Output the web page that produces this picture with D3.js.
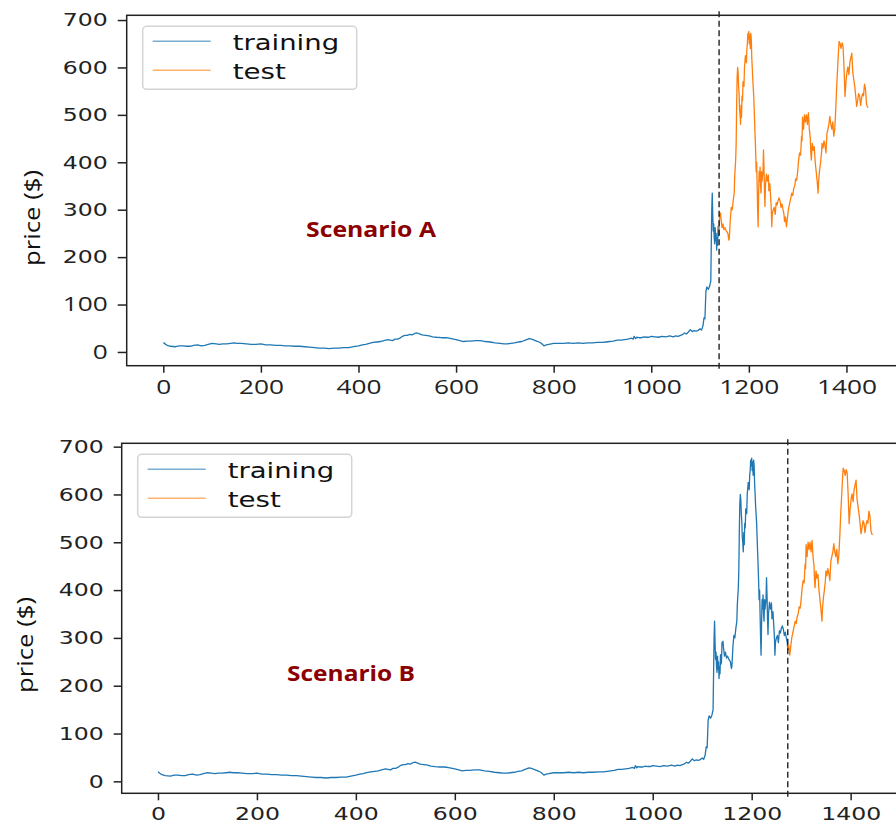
<!DOCTYPE html>
<html lang="en">
<head>
<meta charset="UTF-8">
<script src="https://cdnjs.cloudflare.com/ajax/libs/d3/7.8.5/d3.min.js"></script>
<title>price scenarios</title>
<style>
    body { margin: 0; background: #fff; }
    svg { display: block; }
</style>
</head>
<body>
<svg id="chart" width="896" height="824"></svg>
<script>
    // price series (day index -> price $)
    var days = [
        0, 5, 8, 15, 25, 33, 40, 48, 55, 62, 70, 78, 85, 92, 100, 108, 115, 122, 130, 138,
        145, 152, 160, 170, 180, 190, 200, 210, 220, 230, 240, 250, 260, 270, 280, 290, 300, 310, 320, 330,
        340, 350, 360, 370, 380, 390, 400, 408, 415, 422, 430, 438, 445, 452, 460, 465, 470, 475, 480, 485,
        490, 495, 500, 505, 510, 515, 520, 525, 530, 538, 545, 552, 560, 570, 580, 590, 600, 608, 615, 622,
        630, 640, 650, 660, 670, 680, 690, 698, 705, 712, 720, 728, 735, 742, 750, 755, 760, 765, 770, 775,
        780, 785, 790, 800, 810, 820, 830, 840, 850, 860, 870, 880, 890, 900, 908, 915, 922, 930, 938, 945,
        952, 960, 963, 965, 968, 970, 975, 980, 985, 990, 995, 1000, 1008, 1015, 1022, 1030, 1038, 1045, 1050, 1055,
        1060, 1065, 1068, 1072, 1076, 1080, 1084, 1088, 1092, 1095, 1098, 1100, 1103, 1106,
        1108, 1110, 1112, 1114, 1117, 1120, 1122, 1124, 1125, 1126, 1127, 1128, 1129, 1130, 1131, 1132, 1133, 1134, 1135, 1136,
        1137, 1138, 1139, 1140, 1142, 1143, 1145, 1147, 1149, 1151, 1154, 1157, 1159, 1160, 1162, 1164, 1166, 1168, 1170, 1171,
        1173, 1174, 1175, 1176, 1177, 1178, 1179, 1180, 1181, 1182, 1183, 1184, 1185, 1186, 1187, 1188, 1190, 1191, 1193, 1195,
        1196, 1197, 1198, 1199, 1200, 1201, 1202, 1203, 1204, 1205, 1206, 1207, 1208, 1210, 1212, 1214, 1215, 1216, 1217, 1218,
        1219, 1220, 1221, 1222, 1223, 1224, 1225, 1226, 1227, 1229, 1230, 1231, 1232, 1233, 1234, 1236, 1238, 1240, 1241, 1243,
        1245, 1246, 1247, 1248, 1250, 1252, 1254, 1256, 1258, 1260, 1262, 1264, 1266, 1268, 1270, 1272, 1273, 1275, 1277, 1279,
        1281, 1283, 1285, 1288, 1290, 1292, 1294, 1296, 1298, 1300, 1302, 1304, 1306, 1308, 1309, 1310, 1312, 1314, 1316, 1318,
        1320, 1322, 1324, 1326, 1327, 1328, 1330, 1332, 1334, 1336, 1338, 1340, 1342, 1343, 1345, 1347, 1349, 1350, 1352, 1354,
        1356, 1358, 1360, 1362, 1364, 1366, 1368, 1370, 1372, 1374, 1376, 1378, 1380, 1382, 1384, 1385, 1387, 1389, 1391, 1393,
        1395, 1397, 1399, 1401, 1403, 1405, 1407, 1409, 1411, 1412, 1413, 1415, 1417, 1419, 1421, 1423, 1425, 1427, 1429, 1431,
        1433, 1435, 1437, 1439, 1441, 1442, 1444
    ];
    var prices = [
        20, 16, 14, 12, 11, 13, 13, 12, 12, 14, 15, 13, 14, 16, 18, 17, 16, 17, 17, 18,
        19, 18, 18, 17, 16, 16, 17, 15, 15, 14, 14, 13, 13, 12, 12, 11, 10, 9, 8, 8,
        7, 8, 8, 9, 9, 11, 13, 15, 16, 18, 20, 21, 22, 24, 26, 25, 24, 27, 27, 29,
        33, 35, 35, 37, 36, 39, 40, 38, 36, 35, 34, 32, 31, 30, 30, 28, 26, 24, 22, 23,
        23, 24, 24, 22, 21, 19, 18, 17, 17, 18, 19, 21, 22, 25, 28, 27, 25, 23, 21, 18,
        13, 15, 16, 18, 18, 18, 19, 18, 19, 18, 19, 19, 20, 20, 21, 22, 23, 25, 25, 26,
        27, 29, 27, 33, 28, 31, 30, 30, 32, 31, 31, 33, 32, 31, 33, 32, 34, 32, 34, 33,
        35, 37, 40, 38, 42, 47, 43, 45, 44, 45, 47, 49, 46, 55,
        72, 70, 128, 137, 132, 140, 150, 300, 335, 290, 255, 270, 240, 228, 262, 235, 250, 215, 240, 225,
        265, 245, 250, 290, 293, 280, 262, 270, 258, 262, 255, 250, 236, 240, 280, 305, 300, 320, 335, 370,
        405, 440, 520, 580, 600, 590, 560, 545, 510, 500, 480, 520, 495, 540, 530, 570, 560, 600, 625, 610,
        640, 650, 672, 660, 676, 650, 668, 640, 672, 660, 620, 600, 575, 540, 480, 420, 380, 400, 350, 300,
        264, 330, 380, 360, 390, 350, 335, 380, 360, 380, 426, 390, 340, 307, 350, 375, 360, 373, 340, 355,
        320, 300, 264, 290, 300, 305, 290, 315, 310, 320, 325, 318, 305, 312, 300, 290, 275, 285, 264, 282,
        300, 310, 320, 335, 330, 345, 350, 365, 362, 380, 405, 420, 415, 455, 445, 495, 470, 500, 485, 500,
        480, 504, 470, 450, 420, 405, 440, 425, 433, 400, 380, 360, 335, 360, 384, 400, 420, 440, 430, 445,
        435, 420, 460, 470, 480, 497, 480, 470, 485, 455, 470, 510, 560, 600, 640, 655, 650, 640, 652, 645,
        600, 539, 570, 590, 601, 585, 610, 620, 630, 610, 590, 574, 560, 540, 518, 530, 545, 540, 520, 535,
        545, 540, 565, 555, 525, 520, 515
    ];

    var seriesNames = ['training', 'test'];
    var seriesColors = ['#1f77b4', '#ff7f0e'];
    var scenarioNames = ['Scenario A', 'Scenario B'];
    var splitDays = [1139, 1273];
    var xTicks = [0, 200, 400, 600, 800, 1000, 1200, 1400];
    var yTicks = [0, 100, 200, 300, 400, 500, 600, 700];

    var points = days.map(function(d, i) { return {day: d, price: prices[i]}; });

    // layout of the two stacked panels (pixel frames)
    var panels = [
        {left: 126.7, right: 905, top: 15.3, bottom: 365.7, xDomain: [-75, 1520], yDomain: [-29, 710],
         ylabel: [32, 218], note: [306, 237, 130], tickSize: 9, narrow: true},
        {left: 121.7, right: 910, top: 443.3, bottom: 793.3, xDomain: [-73.3, 1520], yDomain: [-25, 707],
         ylabel: [25, 645], note: [287, 681, 128], tickSize: 8, narrow: false}
    ];

    var svg = d3.select('#chart');
    svg.append('rect').attr('width', 896).attr('height', 824).attr('fill', '#fff');

    panels.forEach(function(p, k) {
        drawPanel(p, k);
    });

    function drawPanel(p, k) {
        var x = d3.scaleLinear().domain(p.xDomain).range([p.left, p.right]);
        var y = d3.scaleLinear().domain(p.yDomain).range([p.bottom, p.top]);
        var split = splitDays[k];
        var g = svg.append('g');

        var clipId = 'clip' + k;
        g.append('clipPath').attr('id', clipId)
            .append('rect')
            .attr('x', p.left).attr('y', p.top)
            .attr('width', p.right - p.left).attr('height', p.bottom - p.top);

        var line = d3.line()
            .x(function(d) { return x(d.day); })
            .y(function(d) { return y(d.price); });

        var parts = [
            points.filter(function(d) { return d.day <= split; }),
            points.filter(function(d) { return d.day >= split; })
        ];

        g.append('g').attr('clip-path', 'url(#' + clipId + ')')
            .selectAll('path')
            .data(parts)
            .enter().append('path')
            .attr('d', line)
            .attr('fill', 'none')
            .attr('stroke', function(d, i) { return seriesColors[i]; })
            .attr('stroke-width', 1.3)
            .attr('stroke-linejoin', 'round');

        // split marker
        g.append('line')
            .attr('x1', x(split)).attr('x2', x(split))
            .attr('y1', y.range()[1] - 4).attr('y2', y.range()[0] + 6)
            .attr('stroke', '#111')
            .attr('stroke-width', 1.3)
            .attr('stroke-dasharray', '6,3.5');

        // frame
        g.append('rect')
            .attr('x', p.left).attr('y', p.top)
            .attr('width', p.right - p.left).attr('height', p.bottom - p.top)
            .attr('fill', 'none').attr('stroke', '#222').attr('stroke-width', 1.5);

        var xAxis = g.append('g')
            .attr('transform', 'translate(0,' + p.bottom + ')')
            .call(d3.axisBottom(x).tickValues(xTicks).tickSize(7).tickPadding(7).tickFormat(d3.format('d')));
        var yAxis = g.append('g')
            .attr('transform', 'translate(' + p.left + ',0)')
            .call(d3.axisLeft(y).tickValues(yTicks).tickSize(p.tickSize).tickPadding(10).tickFormat(d3.format('d')));

        [xAxis, yAxis].forEach(function(ax) {
            ax.select('.domain').remove();
            ax.selectAll('.tick line').attr('stroke', '#222').attr('stroke-width', 1.5);
            ax.selectAll('.tick text')
                .attr('fill', '#222')
                .style('font-family', 'DejaVu Sans')
                .style('font-size', '18px')
                .attr('textLength', function() { return this.textContent.length * 15; })
                .attr('lengthAdjust', 'spacingAndGlyphs');
        });

        // the upper panel mixes in a narrower face for some labels
        if (p.narrow) {
            xAxis.selectAll('.tick text').style('font-family', 'Open Sans').style('font-size', '20px');
            yAxis.selectAll('.tick text')
                .filter(function(d) { return d < 200; })
                .style('font-family', 'Open Sans').style('font-size', '20px');
        }

        g.append('text')
            .attr('transform', 'translate(' + p.ylabel[0] + ',' + p.ylabel[1] + ') rotate(-90)')
            .attr('text-anchor', 'middle')
            .attr('dy', '0.35em')
            .attr('textLength', 96)
            .attr('lengthAdjust', 'spacingAndGlyphs')
            .style('font-family', 'Open Sans')
            .style('font-size', '22px')
            .attr('fill', '#111')
            .text('price ($)');

        g.append('text')
            .attr('x', p.note[0]).attr('y', p.note[1])
            .attr('textLength', p.note[2])
            .attr('lengthAdjust', 'spacingAndGlyphs')
            .style('font-family', 'Open Sans')
            .style('font-size', '21px')
            .style('font-weight', 'bold')
            .attr('fill', '#8b0000')
            .text(scenarioNames[k]);

        // legend
        var lg = g.append('g').attr('transform', 'translate(' + (p.left + 16) + ',' + (p.top + 11) + ')');
        lg.append('rect')
            .attr('width', 214).attr('height', 63).attr('rx', 4)
            .attr('fill', '#fff').attr('stroke', '#d4d4d4').attr('stroke-width', 1.5);
        var item = lg.selectAll('.item')
            .data(seriesNames)
            .enter().append('g')
            .attr('class', 'item')
            .attr('transform', function(d, i) { return 'translate(0,' + (15 + i * 29) + ')'; });
        item.append('line')
            .attr('x1', 10).attr('x2', 68)
            .attr('stroke', function(d, i) { return seriesColors[i]; })
            .attr('stroke-opacity', 0.6)
            .attr('stroke-width', 1.5);
        item.append('text')
            .attr('x', 90).attr('y', 9)
            .attr('textLength', function(d) { return d.length * 13.3; })
            .attr('lengthAdjust', 'spacingAndGlyphs')
            .style('font-family', 'DejaVu Sans')
            .style('font-size', '21px')
            .attr('fill', '#111')
            .text(function(d) { return d; });
    }
</script>
</body>
</html>
